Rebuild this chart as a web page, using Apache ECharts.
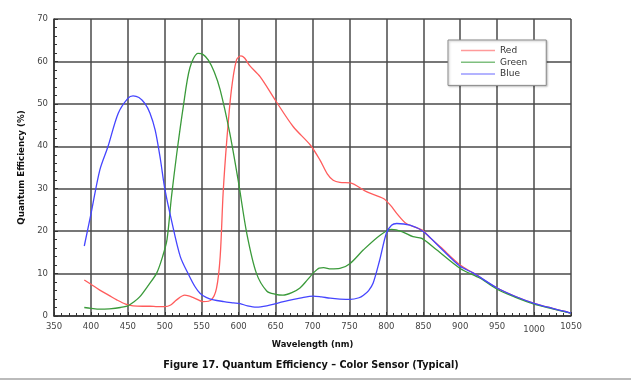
<!DOCTYPE html>
<html><head><meta charset="utf-8">
<script src="https://cdn.jsdelivr.net/npm/echarts@6/dist/echarts.min.js"></script>
<style>html,body{margin:0;padding:0;background:#fff}#c{width:631px;height:381px}</style>
</head><body><div id="c"></div>
<script>
const redNm  = [391,400,412,425,435,447,457,470,480,490,500,508,516,527,538,552,563,570,575,579,584,590,597,603,608,615,629,651,674,697,710,720,728,737,751,773,796,806,814,827,848,860,873,900,918,950,975,1000,1025,1050];
const redQE  = [8.5,7.5,6.1,4.8,3.8,2.8,2.4,2.3,2.3,2.2,2.2,2.6,3.8,4.9,4.4,3.4,3.8,6.5,14,29,41.5,53,60.3,61.3,60.8,59,56.4,50.5,44.6,40.3,36.8,33.5,32,31.5,31.4,29.3,27.7,26,24.2,21.8,20.3,18.3,16.3,12.0,10.1,6.6,4.6,3.0,1.8,0.7];
const greenNm = [391,400,412,425,440,450,458,466,478,489,497,503,509,516,525,534,545,552,559,567,575,588,600,611,624,638,650,660,672,683,693,701,709,715,725,737,751,769,792,807,821,836,848,868,900,927,950,975,1000,1025,1050];
const greenQE = [2.0,1.8,1.6,1.7,2.0,2.4,3.3,4.5,7.3,10.1,14,18,28,38,49.3,58.5,61.9,61.6,60.3,57.5,53.3,43.1,31.3,19.5,10.1,5.9,5.1,4.9,5.5,6.6,8.5,10.1,11.3,11.4,11.1,11.2,12.4,15.6,19.1,20.4,19.9,18.7,18.3,15.6,11.2,8.9,6.3,4.4,2.8,1.7,0.7];
const blueNm = [391,400,412,423,437,450,457,465,473,480,487,494,500,509,521,533,541,548,556,566,580,593,602,612,624,638,652,668,683,701,712,724,737,751,763,769,776,782,791,800,807,814,832,850,873,900,918,950,975,1000,1025,1050];
const blueQE = [16.5,24,34.4,39.9,47.8,51.3,51.9,51.5,50.1,47.8,43.8,37,30,22.6,14,9.5,6.9,5.3,4.4,3.8,3.4,3.1,2.9,2.4,2.1,2.4,3.0,3.7,4.2,4.7,4.5,4.2,4.0,3.9,4.3,4.9,6,7.7,13.2,19.5,21.4,21.8,21.4,19.9,16.1,11.7,10.1,6.6,4.6,3.0,1.8,0.7];
const seriesNames = ['Red','Green','Blue'];
const xTicks = {min:350, max:1050, step:50};
const yTicks = {min:0, max:70, step:10};

const zip = (a,b) => a.map((v,i)=>[v,b[i]]);
const chart = echarts.init(document.getElementById('c'), null, {renderer:'canvas'});
const font = 'DejaVu Sans, sans-serif';
const colors = ['#ff5c5c','#3a9a3a','#4545ff'];
const legendColors = ['#ff9a9a','#7fbf7f','#9a9aff'];
const mk = (i, nm, qe) => ({
  name: seriesNames[i], type:'line', data: zip(nm, qe), smooth:0.3, symbol:'none', showSymbol:false,
  lineStyle:{color:colors[i], width:1.3}, itemStyle:{color:colors[i]}, animation:false, z:5
});
chart.setOption({
  animation:false,
  grid:{left:54, right:60, top:19, bottom:65, containLabel:false},
  legend:{
    orient:'vertical', left:448, top:40, icon:'rect', itemWidth:34, itemHeight:1.5,
    itemGap:0.7, padding:[5,19,6,13], backgroundColor:'#fff',
    borderColor:'#8a8a8a', borderWidth:1,
    shadowColor:'rgba(0,0,0,0.25)', shadowBlur:2, shadowOffsetX:1, shadowOffsetY:1,
    textStyle:{fontFamily:font, fontSize:9, color:'#333', lineHeight:11},
    data: seriesNames.map((n,i)=>({name:n, itemStyle:{color:legendColors[i]}}))
  },
  xAxis:{
    type:'value', min:xTicks.min, max:xTicks.max, interval:xTicks.step,
    name:'Wavelength (nm)', nameLocation:'middle', nameGap:25,
    nameTextStyle:{fontFamily:font, fontSize:8.4, fontWeight:'bold', color:'#111'},
    axisLine:{show:true, lineStyle:{color:'#333', width:1.5}},
    axisTick:{show:true, inside:true, length:4, lineStyle:{color:'#333'}},
    minorTick:{show:true, splitNumber:5, length:3, lineStyle:{color:'#333'}},
    axisLabel:{fontFamily:font, fontSize:8.5, color:'#444', margin:6,
      formatter: v => v === 1000 ? '{low|' + v + '}' : String(v),
      rich:{low:{fontFamily:font, fontSize:8.5, color:'#444', padding:[3,0,0,0]}}},
    splitLine:{show:true, lineStyle:{color:'#4a4a4a', width:1.5}}
  },
  yAxis:{
    type:'value', min:yTicks.min, max:yTicks.max, interval:yTicks.step,
    name:'Quantum Efficiency (%)', nameLocation:'middle', nameGap:26,
    nameTextStyle:{fontFamily:font, fontSize:8.7, fontWeight:'bold', color:'#111'},
    axisLine:{show:true, lineStyle:{color:'#333', width:1.5}},
    axisTick:{show:true, inside:true, length:4, lineStyle:{color:'#333'}},
    minorTick:{show:true, splitNumber:5, length:3, lineStyle:{color:'#333'}},
    axisLabel:{fontFamily:font, fontSize:8.5, color:'#444', margin:6},
    splitLine:{show:true, lineStyle:{color:'#4a4a4a', width:1.5}}
  },
  graphic:[
    {type:'text', x:311, y:365, style:{text:'Figure 17. Quantum Efficiency \u2013 Color Sensor (Typical)', fontFamily:font, fontSize:9.7, fontWeight:'bold', fill:'#111', align:'center', verticalAlign:'middle'}},
    {type:'rect', left:0, top:378, shape:{width:631, height:2}, style:{fill:'#bbb'}}
  ],
  series:[
    mk(0, redNm, redQE),
    mk(1, greenNm, greenQE),
    mk(2, blueNm, blueQE)
  ]
});
</script></body></html>
